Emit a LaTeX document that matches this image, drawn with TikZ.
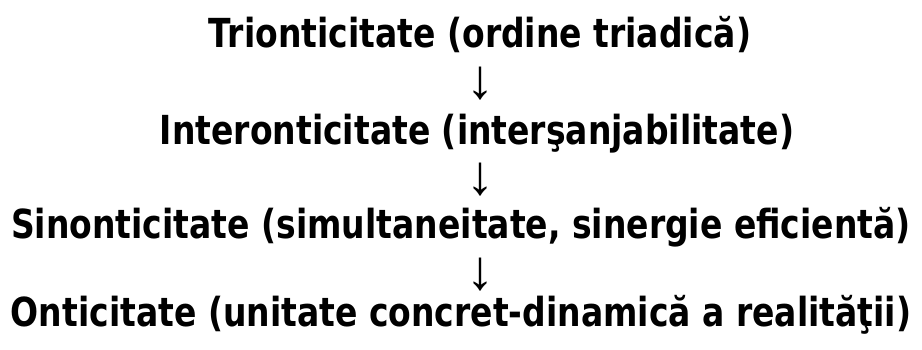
\documentclass[tikz,border=0pt]{standalone}
\usepackage{fontspec}
\setmainfont{DejaVu Sans}
\newfontfamily\arrowfont{Liberation Sans}
\begin{document}
\begin{tikzpicture}[x=1pt,y=-1pt,
  line/.style={font=\fontsize{40}{42}\selectfont\bfseries, anchor=base, inner sep=0pt, xscale=0.825, transform shape},
  arr/.style={font=\arrowfont\fontsize{56}{58}\selectfont, anchor=center, inner sep=0pt}]
\useasboundingbox[fill=white] (0,0) rectangle (922,350);
\node[line] (t1) at (480,48) {Trionticitate (ordine triadică)};
\node[arr] (a1) at (480,84) {↓};
\node[line] (t2) at (477,145) {Interonticitate (interşanjabilitate)};
\node[arr] (a2) at (480,180) {↓};
\node[line] (t3) at (461,239) {Sinonticitate (simultaneitate, sinergie eficientă)};
\node[arr] (a3) at (480,275) {↓};
\node[line] (t4) at (461,326) {Onticitate (unitate concret-dinamică a realităţii)};
\end{tikzpicture}
\end{document}
